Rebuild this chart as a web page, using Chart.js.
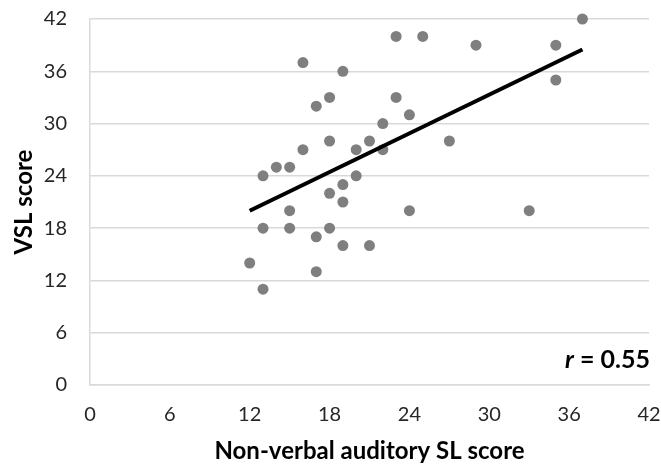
<!DOCTYPE html>
<html>
<head>
<meta charset="utf-8">
<script src="https://cdn.jsdelivr.net/npm/chart.js@4.4.1/dist/chart.umd.min.js"></script>
<style>
  html, body { margin: 0; padding: 0; background: #fff; }
  #wrap { width: 661px; height: 466px; }
</style>
</head>
<body>
<div id="wrap"><canvas id="graph" width="661" height="466"></canvas></div>
<script>
// scores
var auditoryScores = [12, 13, 13, 13, 14, 15, 15, 15, 16, 16, 17, 17, 17, 18, 18, 18, 18, 19, 19, 19, 19,
    20, 20, 21, 21, 22, 22, 23, 23, 24, 24, 25, 27, 29, 33, 35, 35, 37];
var vslScores = [14, 11, 18, 24, 25, 25, 20, 18, 37, 27, 32, 17, 13, 33, 28, 22, 18, 36, 23, 21, 16,
    27, 24, 28, 16, 30, 27, 40, 33, 31, 20, 40, 28, 39, 20, 39, 35, 42];

// trend line ends
var trendX = [12, 37];
var trendY = [20, 38.5];

var axisTicks = [0, 6, 12, 18, 24, 30, 36, 42];
var rLabel = "0.55";

var fontFamily = "Lato, 'Open Sans', sans-serif";
var gridColor = "#d9d9d9";
var tickColor = "#262626";

var points = auditoryScores.map(function (x, i) {
    return { x: x, y: vslScores[i] };
});
var trend = trendX.map(function (x, i) {
    return { x: x, y: trendY[i] };
});

var rPlugin = {
    id: "rLabel",
    afterDraw: function (chart) {
        var ctx = chart.ctx;
        var area = chart.chartArea;
        ctx.save();
        ctx.fillStyle = "#000";
        ctx.textBaseline = "alphabetic";
        ctx.font = "bold 25px " + fontFamily;
        var rest = " = " + rLabel;
        var restW = ctx.measureText(rest).width;
        var xr = area.right + 1;
        var yb = area.bottom - 17;
        ctx.textAlign = "right";
        ctx.fillText(rest, xr, yb);
        ctx.font = "italic bold 25px " + fontFamily;
        ctx.fillText("r", xr - restW, yb);
        ctx.restore();
    }
};

var config = {
    type: "scatter",
    data: {
        datasets: [{
            type: "line",
            label: "trend",
            data: trend,
            borderColor: "#000",
            borderWidth: 4,
            pointRadius: 0,
            fill: false,
            order: 0
        }, {
            label: "scores",
            data: points,
            backgroundColor: "#7f7f7f",
            borderWidth: 0,
            pointRadius: 5.5,
            clip: false,
            order: 1
        }]
    },
    options: {
        responsive: false,
        animation: false,
        layout: { padding: { top: 19, right: 12, left: 0, bottom: 0 } },
        plugins: {
            legend: { display: false },
            tooltip: { enabled: false }
        },
        scales: {
            x: {
                type: "linear",
                min: 0,
                max: 42,
                afterBuildTicks: function (axis) {
                    axis.ticks = axisTicks.map(function (v) { return { value: v }; });
                },
                afterFit: function (axis) {
                    axis.height = 81;
                    axis.paddingLeft = 0;
                    axis.paddingRight = 0;
                },
                grid: { display: false, drawTicks: false },
                border: { display: true, color: gridColor, width: 1.5 },
                ticks: {
                    color: tickColor,
                    font: { family: fontFamily, size: 20 },
                    padding: 18,
                    maxRotation: 0
                },
                title: {
                    display: true,
                    text: "Non-verbal auditory SL score",
                    color: "#000",
                    font: { family: fontFamily, size: 24, weight: "bold" },
                    padding: { top: 0, bottom: 0 }
                }
            },
            y: {
                type: "linear",
                min: 0,
                max: 42,
                afterBuildTicks: function (axis) {
                    axis.ticks = axisTicks.map(function (v) { return { value: v }; });
                },
                afterFit: function (axis) {
                    axis.width = 90;
                    axis.paddingTop = 0;
                    axis.paddingBottom = 0;
                },
                grid: { color: gridColor, lineWidth: 1.5, drawTicks: false },
                border: { display: true, color: gridColor, width: 1.5 },
                ticks: {
                    color: tickColor,
                    font: { family: fontFamily, size: 20 },
                    padding: 23
                },
                title: {
                    display: true,
                    text: "VSL score",
                    color: "#000",
                    font: { family: fontFamily, size: 24, weight: "bold" },
                    padding: { top: 10, bottom: 0 }
                }
            }
        }
    },
    plugins: [rPlugin]
};

var ctx = document.getElementById("graph").getContext("2d");
var vslChart = new Chart(ctx, config);
</script>
</body>
</html>
